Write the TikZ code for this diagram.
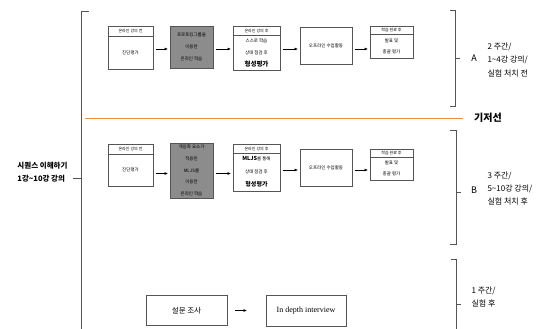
\documentclass[tikz,border=0pt]{standalone}
\usepackage{fontspec}
\setmainfont{Noto Sans CJK KR}
\newfontfamily\serifeng{Liberation Serif}
\usetikzlibrary{arrows.meta,positioning}
\definecolor{boxgray}{RGB}{140,140,140}
\definecolor{baseorange}{RGB}{232,142,62}
\definecolor{linegray}{RGB}{85,85,85}
\newcommand{\sz}[2]{\fontsize{#1}{#2}\selectfont}

\begin{document}
\begin{tikzpicture}[x=1pt, y=-1pt, >={Latex[length=3.5pt,width=3pt]},
		box/.style={draw=linegray, line width=0.7pt, inner sep=0pt, outer sep=0pt, align=center, font=\sz{4.5}{12}},
		hdr/.style={box, font=\sz{4}{5}},
		gbox/.style={box, fill=boxgray},
		arr/.style={->, line width=0.6pt, shorten <=2.5pt, shorten >=2pt},
		brk/.style={draw=linegray, line width=0.8pt}]
		\useasboundingbox (0,0) rectangle (539,329);
		% phase A
		\node[hdr, minimum width=45, minimum height=10] (a1h) at (130.5,31) {온라인 강의 전};
		\node[box, minimum width=45, minimum height=33, below=0pt of a1h] (a1) {진단평가};
		\node[gbox, minimum width=43, minimum height=42] (a2) at (191.5,47) {프로토킹그룹을\\이용한\\온라인 학습};
		\node[hdr, minimum width=47, minimum height=9] (a3h) at (256.5,30.5) {온라인 강의 후};
		\node[box, minimum width=47, minimum height=35, below=0pt of a3h] (a3) {스스로 학습\\상태 점검 후\\{\sz{6.5}{8}\bfseries 형성평가}};
		\node[box, minimum width=52, minimum height=37] (a4) at (326,46) {오프라인 수업활동};
		\node[hdr, minimum width=43, minimum height=8] (a5h) at (391.5,30) {학습 완료 후};
		\node[box, minimum width=43, minimum height=24, below=0pt of a5h, font=\sz{4.5}{11}] (a5) {발표 및\\총괄 평가};
		\draw[arr] (a1.east |- 0,49) -- (a2.west |- 0,49);
		\draw[arr] (a2.east |- 0,49) -- (a3.west |- 0,49);
		\draw[arr] (a3.east |- 0,49) -- (a4.west |- 0,49);
		\draw[arr] (a4.east |- 0,49) -- (a5.west |- 0,49);
		% phase B
		\node[hdr, minimum width=45, minimum height=10] (b1h) at (130.5,149) {온라인 강의 전};
		\node[box, minimum width=45, minimum height=32, below=0pt of b1h] (b1) {진단평가};
		\node[gbox, minimum width=43, minimum height=55, font=\sz{4.5}{11.6}] (b2) at (191.5,170.5) {게임화 요소가\\적용된\\MLJS를\\이용한\\온라인 학습};
		\node[hdr, minimum width=47, minimum height=9] (b3h) at (256.5,148.5) {온라인 강의 후};
		\node[box, minimum width=47, minimum height=38, below=0pt of b3h, font=\sz{4.5}{13}] (b3) {{\sz{5.5}{13}\bfseries MLJS}를 통해\\상태 점검 후\\{\sz{6}{8}\bfseries 형성평가}};
		\node[box, minimum width=52, minimum height=37.5] (b4) at (326,168) {오프라인 수업활동};
		\node[hdr, minimum width=43, minimum height=8] (b5h) at (391.5,153) {학습 완료 후};
		\node[box, minimum width=43, minimum height=23, below=0pt of b5h, font=\sz{4.5}{10.5}] (b5) {발표 및\\총괄 평가};
		\draw[arr] (b1.east |- 0,173.5) -- (b2.west |- 0,173.5);
		\draw[arr] (b2.east |- 0,173.5) -- (b3.west |- 0,173.5);
		\draw[arr] (b3.east |- 0,170) -- (b4.west |- 0,170);
		\draw[arr] (b4.east |- 0,170) -- (b5.west |- 0,170);
		% phase C
		\node[box, minimum width=81, minimum height=30, font=\sz{7.5}{9}] (c1) at (186.5,310.5) {설문 조사};
		\node[box, minimum width=80, minimum height=31, font=\serifeng\sz{8}{9}] (c2) at (306,310.5) {In depth interview};
		\draw[arr, shorten <=8pt, shorten >=19pt] (c1) -- (c2);
		% baseline
		\draw[baseorange, line width=1pt] (85,118.5) -- (463,118.5);
		\node[font=\sz{10}{12}\bfseries] (base) at (488,118) {기저선};
		% brackets
		\draw[brk] (89,11) -- (81,11) -- (81,330);
		\coordinate (lt) at (81,178);
		\node[anchor=east, align=left, font=\sz{7.5}{12.7}\bfseries] (seq) at (71,172.5) {시퀀스 이해하기\\1강\textasciitilde10강 강의};
		\draw[brk] (seq.east |- lt) ++(1.5,0) -- (lt);
		\draw[brk] (450,10) -- (455,10) -- (455,106.5) -- (450,106.5);
		\draw[brk] (455,58.5) -- (460,58.5);
		\node[font=\sz{9}{10}] (la) at (474,58.5) {A};
		\node[anchor=west, align=left, font=\sz{8}{13.8}] (ta) at (484,60) {2 주간/\\1\textasciitilde4강 강의/\\실험 처치 전};
		\draw[brk] (450,130.5) -- (456,130.5) -- (456,244.5) -- (450,244.5);
		\draw[brk] (456,192.5) -- (461,192.5);
		\node[font=\sz{9}{10}] (lb) at (474,190) {B};
		\node[anchor=west, align=left, font=\sz{8}{13}] (tb) at (484,189) {3 주간/\\5\textasciitilde10강 강의/\\실험 처치 후};
		\draw[brk] (451,259) -- (456,259) -- (456,330);
		\draw[brk] (456,304) -- (461,304);
		\node[anchor=west, align=left, font=\sz{8}{13}] (tc) at (468,297.5) {1 주간/\\실험 후};
	\end{tikzpicture}
\end{document}
